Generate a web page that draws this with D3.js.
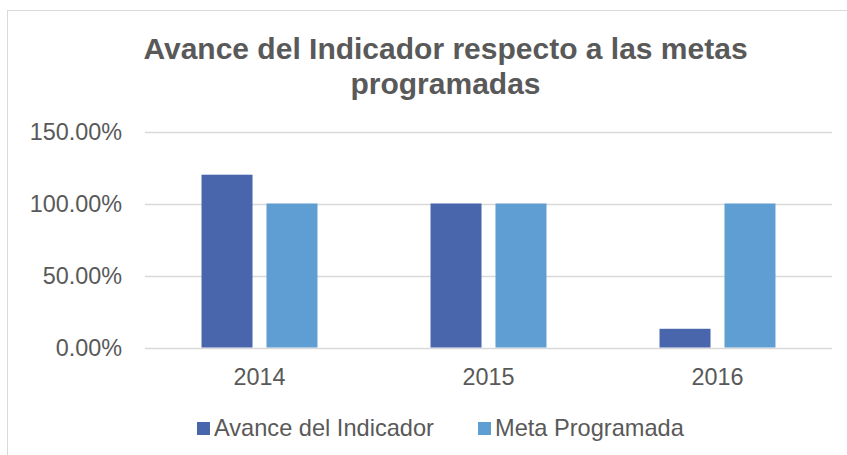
<!DOCTYPE html>
<html lang="es">
<head>
<meta charset="utf-8">
<title>Avance del Indicador</title>
<script src="https://d3js.org/d3.v7.min.js"></script>
<style>
  body { margin: 0; background: #fff; }
  text { font-family: "Liberation Sans", Arial, sans-serif; fill: #595959; }
</style>
</head>
<body>
<script>
// data
var years = ["2014", "2015", "2016"];
var seriesNames = ["Avance del Indicador", "Meta Programada"];
var avance = [120, 100, 13];
var meta = [100, 100, 100];
var yTicks = [0, 50, 100, 150];
var titleLines = ["Avance del Indicador respecto a las metas", "programadas"];

var colors = ["#4966ad", "#5f9ed3"];

var W = 847, H = 455;
var svg = d3.select("body").append("svg")
  .attr("width", W)
  .attr("height", H);

// chart frame
svg.append("rect")
  .attr("x", 7.5).attr("y", 10.5)
  .attr("width", 860).attr("height", 460)
  .attr("fill", "#fff")
  .attr("stroke", "#d9d9d9");

var plot = {left: 145, right: 832, top: 131.5, bottom: 347.5};

var x0 = d3.scaleBand()
  .domain(years)
  .range([plot.left, plot.right]);

var x1 = d3.scaleBand()
  .domain(seriesNames)
  .range([0, x0.bandwidth()])
  .paddingInner(0.215)
  .paddingOuter(0.87);

var y = d3.scaleLinear()
  .domain([0, 150])
  .range([plot.bottom, plot.top]);

// gridlines
svg.append("g")
  .selectAll("line")
  .data(yTicks)
  .enter()
  .append("line")
  .attr("x1", plot.left)
  .attr("x2", plot.right)
  .attr("y1", function(d){ return Math.round(y(d)) + 0.5; })
  .attr("y2", function(d){ return Math.round(y(d)) + 0.5; })
  .attr("stroke", "#d9d9d9")
  .attr("stroke-width", 1.5);

// y axis labels
var yAxis = d3.axisLeft(y)
  .tickValues(yTicks)
  .tickSize(0)
  .tickPadding(0)
  .tickFormat(function(d){ return d3.format(".2f")(d) + "%"; });

svg.append("g")
  .attr("transform", "translate(" + 122 + ",0)")
  .call(yAxis)
  .call(function(g){ g.select(".domain").remove(); })
  .selectAll("text")
  .attr("font-size", "23.4px")
  .attr("fill", "#595959")
  .attr("dy", "0.36em");

// x axis labels
var xAxis = d3.axisBottom(x0).tickSize(0).tickPadding(0);
svg.append("g")
  .attr("transform", "translate(0," + 368.5 + ")")
  .call(xAxis)
  .call(function(g){ g.select(".domain").remove(); })
  .selectAll("text")
  .attr("font-size", "23.4px")
  .attr("fill", "#595959");

// bars
var rows = years.map(function(yr, i){
  return {year: yr, values: [avance[i], meta[i]]};
});

var groups = svg.append("g")
  .selectAll("g")
  .data(rows)
  .enter()
  .append("g")
  .attr("transform", function(d){ return "translate(" + x0(d.year) + ",0)"; });

groups.selectAll("rect")
  .data(function(d){
    return d.values.map(function(v, j){ return {name: seriesNames[j], value: v, idx: j}; });
  })
  .enter()
  .append("rect")
  .attr("x", function(d){ return x1(d.name); })
  .attr("width", x1.bandwidth())
  .attr("y", function(d){ return y(d.value); })
  .attr("height", function(d){ return plot.bottom - y(d.value); })
  .attr("fill", function(d){ return colors[d.idx]; });

// title
svg.append("text")
  .attr("x", 445.5)
  .attr("y", 59)
  .attr("text-anchor", "middle")
  .attr("font-size", "30px")
  .attr("font-weight", "bold")
  .selectAll("tspan")
  .data(titleLines)
  .enter()
  .append("tspan")
  .attr("x", 445.5)
  .attr("dy", function(d, i){ return i === 0 ? 0 : 35; })
  .text(function(d){ return d; });

// legend
var legendX = [197, 478];
var legend = svg.append("g")
  .selectAll("g")
  .data(seriesNames)
  .enter()
  .append("g")
  .attr("transform", function(d, i){ return "translate(" + legendX[i] + ",422)"; });

legend.append("rect")
  .attr("width", 13)
  .attr("height", 13)
  .attr("fill", function(d, i){ return colors[i]; });

legend.append("text")
  .attr("x", 17)
  .attr("y", 14)
  .attr("font-size", "23.6px")
  .text(function(d){ return d; });
</script>
</body>
</html>
